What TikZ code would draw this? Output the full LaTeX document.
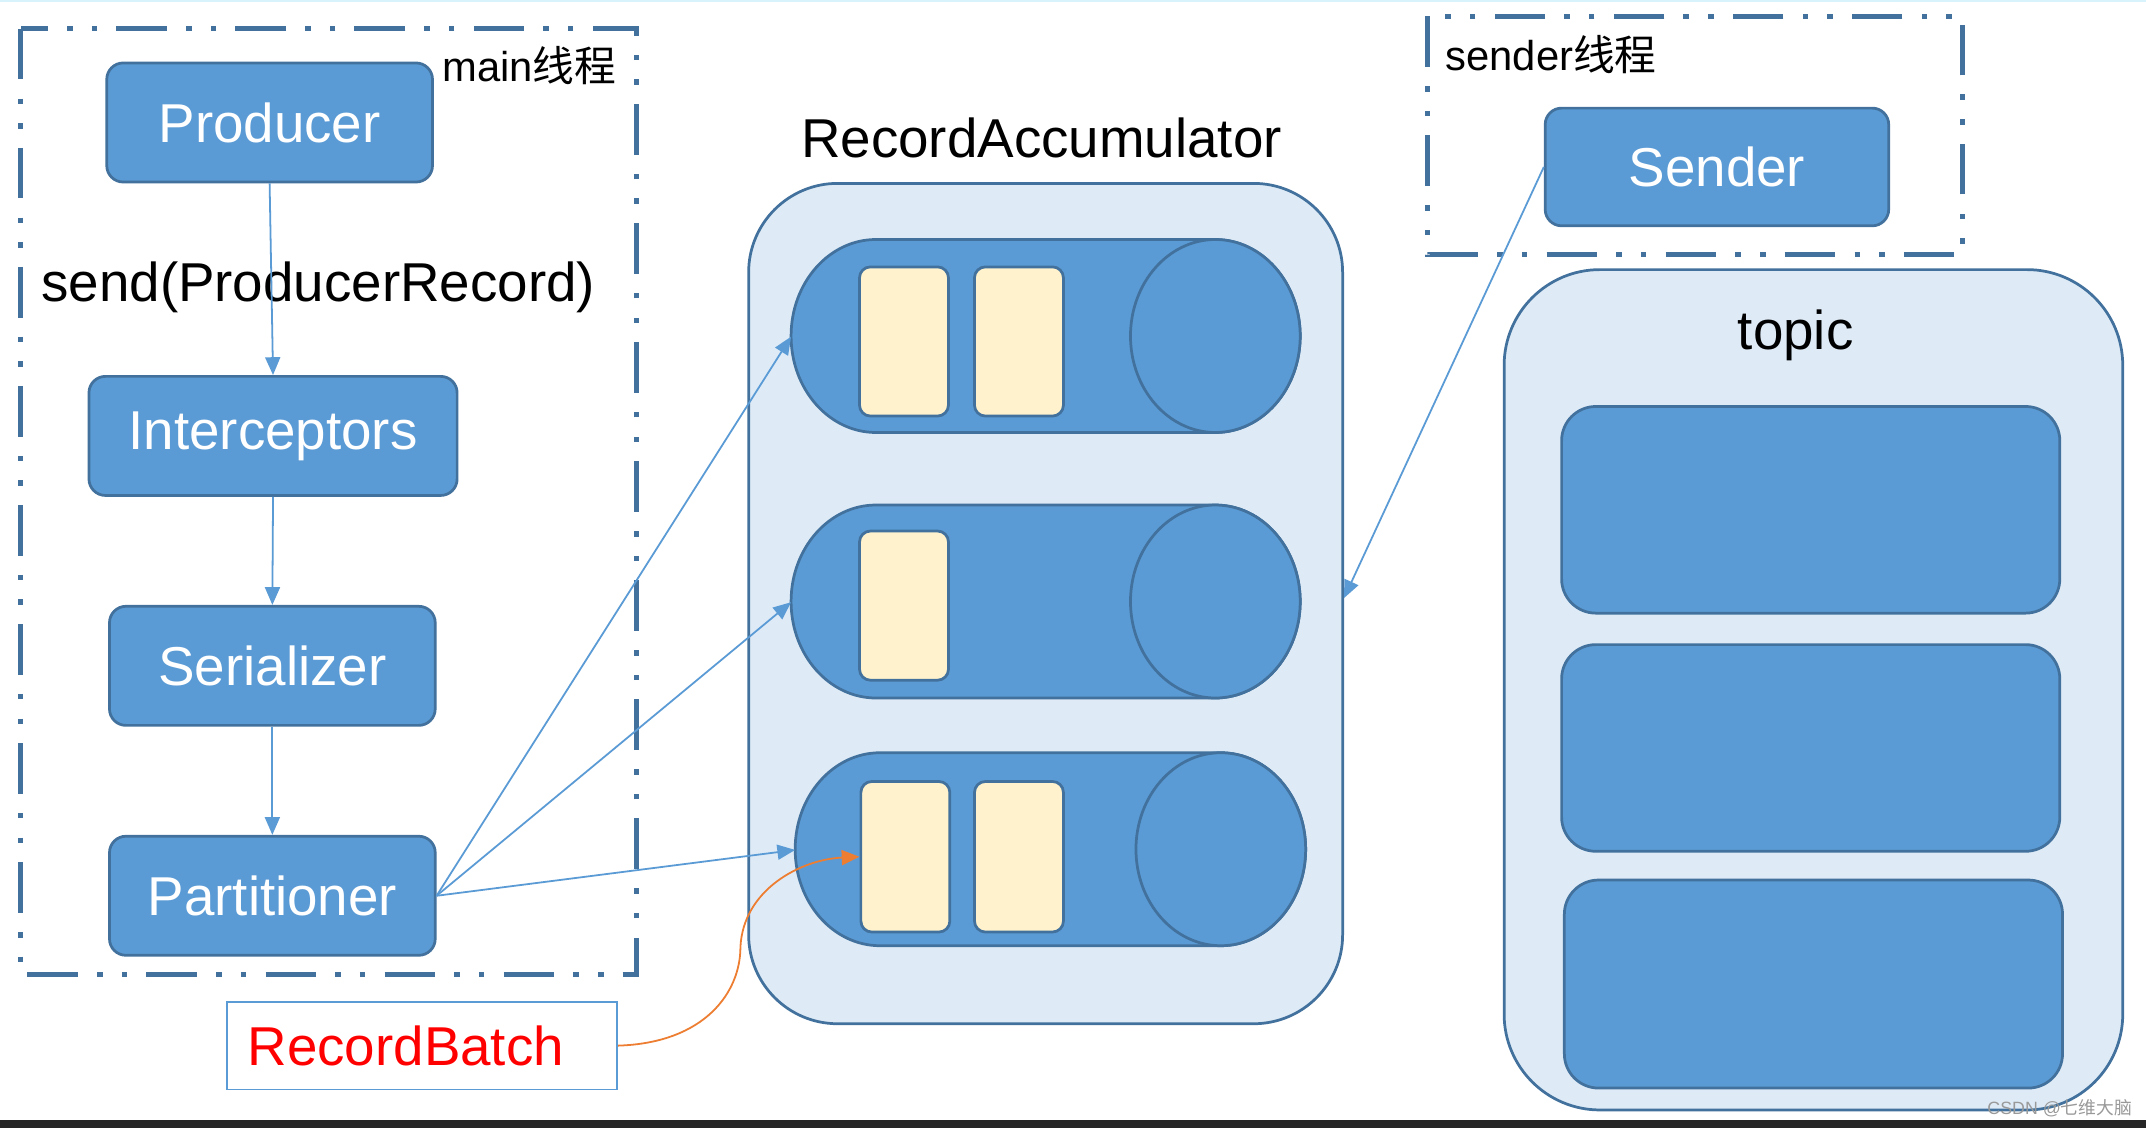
\documentclass[tikz,border=0pt]{standalone}
\usepackage{fontspec}
\setmainfont{Liberation Sans}
\newfontfamily\cjk{Noto Sans CJK SC}
\usetikzlibrary{arrows.meta}
\definecolor{bfill}{HTML}{5B9BD5}
\definecolor{bline}{HTML}{41719C}
\definecolor{lfill}{HTML}{DEEBF7}
\definecolor{cream}{HTML}{FFF2CC}
\definecolor{orng}{HTML}{ED7D31}
\newcommand\bigtxt{\fontsize{40}{48}\selectfont}
\newcommand\midtxt{\fontsize{30.5}{35}\selectfont}
\begin{document}
\begin{tikzpicture}[x=1pt,y=-1pt,
  bluebox/.style={draw=bline, fill=bfill, line width=2pt, rounded corners=12pt, text=white, font=\bigtxt, inner sep=0pt},
  threadbox/.style={draw=bline, line width=4pt, dash pattern=on 37pt off 14pt on 4pt off 14pt on 4pt off 14pt},
  arr/.style={draw=bfill, line width=1.3pt, -{Triangle[length=13pt,width=11pt]}},
  outerbox/.style={draw=bline, fill=lfill, line width=2pt, inner sep=0pt},
  cylbody/.style={draw=bline, fill=bfill, line width=2pt},
  batchbox/.style={draw=bline, fill=cream, line width=2pt, rounded corners=8pt, inner sep=0pt},
  topicpart/.style={draw=bline, fill=bfill, line width=2pt, rounded corners=25pt, inner sep=0pt},
  lbl/.style={inner sep=0pt, text=black}]
\useasboundingbox (0,0) rectangle (1568,824);
\fill[white] (0,0) rectangle (1568,824);
\fill[black!85] (0,818) rectangle (1568,824);
\fill[cyan!15] (0,0) rectangle (1568,1.2);

% thread boxes
\draw[threadbox] (15,21) rectangle (465,712);
\draw[threadbox] (1043,12) rectangle (1434,186);
\node[lbl, anchor=west, font=\midtxt] (mainlbl) at (323,48) {main{\cjk 线程}};
\node[lbl, anchor=west, font=\midtxt] (senderlbl) at (1056,40) {sender{\cjk 线程}};

% main thread boxes
\node[bluebox, minimum width=238, minimum height=87] (prod) at (197,89.5) {Producer};
\node[lbl, anchor=west, font=\bigtxt] (sendlbl) at (30,210) {send(ProducerRecord)};
\node[bluebox, minimum width=269, minimum height=87] (inter) at (199.5,318.5) {\raisebox{-4pt}{Interceptors}};
\node[bluebox, minimum width=238, minimum height=87] (ser) at (199,486.5) {Serializer};
\node[bluebox, minimum width=238, minimum height=87] (part) at (199,654.5) {\raisebox{-2pt}{Partitioner}};
\node[draw=bfill, line width=1.3pt, fill=white, minimum width=285, minimum height=64, inner sep=0pt, text=red, font=\bigtxt] (rb) at (308.5,764) {RecordBatch\hspace*{24pt}};

% accumulator
\node[lbl, font=\bigtxt] (acctitle) at (761,101) {RecordAccumulator};
\node[outerbox, rounded corners=65pt, minimum width=434, minimum height=614] (acc) at (764,441) {};
% cylinders
\draw[cylbody] (888,175) -- (640,175) arc[start angle=90, end angle=270, x radius=62pt, y radius=70.5pt] -- (888,316) arc[start angle=-90, end angle=90, x radius=62pt, y radius=70.5pt] -- cycle;
\draw[cylbody] (888,245.5) ellipse [x radius=62pt, y radius=70.5pt];
\draw[cylbody] (888,369) -- (640,369) arc[start angle=90, end angle=270, x radius=62pt, y radius=70.5pt] -- (888,510) arc[start angle=-90, end angle=90, x radius=62pt, y radius=70.5pt] -- cycle;
\draw[cylbody] (888,439.5) ellipse [x radius=62pt, y radius=70.5pt];
\draw[cylbody] (892,550) -- (643,550) arc[start angle=90, end angle=270, x radius=62pt, y radius=70.5pt] -- (892,691) arc[start angle=-90, end angle=90, x radius=62pt, y radius=70.5pt] -- cycle;
\draw[cylbody] (892,620.5) ellipse [x radius=62pt, y radius=70.5pt];
\coordinate (c1) at (578,246);
\coordinate (c2) at (578,440);
\coordinate (c3) at (581,621);
\node[batchbox, minimum width=65, minimum height=109] (b11) at (660.5,249.5) {};
\node[batchbox, minimum width=65, minimum height=109] (b12) at (744.5,249.5) {};
\node[batchbox, minimum width=65, minimum height=109] (b21) at (660.5,442.5) {};
\node[batchbox, minimum width=65, minimum height=110] (b31) at (661.5,626) {};
\node[batchbox, minimum width=65, minimum height=110] (b32) at (744.5,626) {};

% sender
\node[bluebox, minimum width=251, minimum height=86] (sender) at (1254.5,122) {Sender};

% topic
\node[outerbox, rounded corners=70pt, minimum width=452, minimum height=614] (topic) at (1325,504) {};
\node[lbl, font=\bigtxt] (topiclbl) at (1312,245) {topic};
\node[topicpart, minimum width=364, minimum height=151] (p1) at (1323,372.5) {};
\node[topicpart, minimum width=364, minimum height=151] (p2) at (1323,546.5) {};
\node[topicpart, minimum width=364, minimum height=152] (p3) at (1325,719) {};

% connectors
\draw[arr] (prod.south) -- (inter.north);
\draw[arr] (inter.south) -- (ser.north);
\draw[arr] (ser.south) -- (part.north);
\draw[arr] (part.east) -- (c1);
\draw[arr] (part.east) -- (c2);
\draw[arr] (part.east) -- (c3);
\coordinate (accR) at (982,437);
\draw[arr] (sender.west) -- (accR);
\draw[draw=orng, line width=1.3pt, -{Triangle[length=13pt,width=11pt]}] (rb.east) .. controls (515,762) and (541,725) .. (541,692) .. controls (543,650) and (585,628) .. (b31.west);

% watermark
\node[inner sep=0pt, anchor=east, text=black!40, font=\fontsize{13}{15}\selectfont] (wm) at (1558,810) {CSDN @{\cjk 七维大脑}};
\end{tikzpicture}
\end{document}
